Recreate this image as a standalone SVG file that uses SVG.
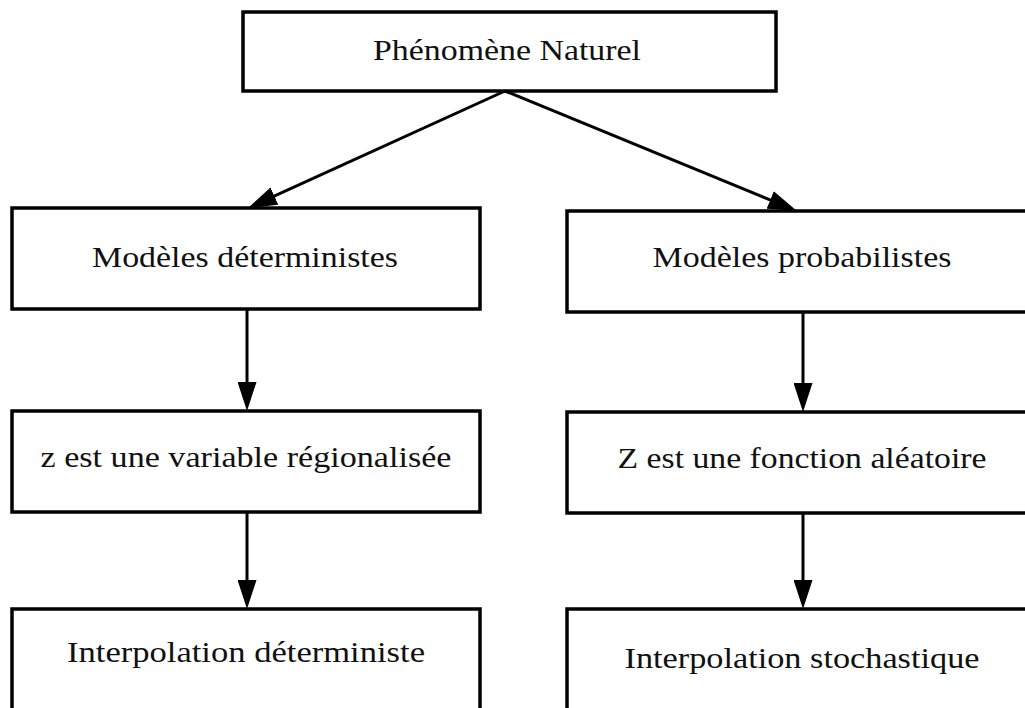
<svg xmlns="http://www.w3.org/2000/svg" width="1025" height="708" viewBox="0 0 1025 708">
<style>
.box{fill:#fff;stroke:#000;stroke-width:3.5}
.lbl{font-family:"Liberation Serif","DejaVu Serif",serif;font-size:30px;fill:#111;text-anchor:middle}
.edge{stroke:#000;stroke-width:3;fill:none}
</style>
<defs>
<marker id="ah" viewBox="0 0 29 19" refX="19" refY="9.5" markerWidth="29" markerHeight="19" markerUnits="userSpaceOnUse" orient="auto">
<path d="M0,0 L29,9.5 L0,19 Z" fill="#000"/>
</marker>
</defs>
<rect width="1025" height="708" fill="#fff"/>
<g id="n-phenomene">
<rect class="box" x="243" y="12" width="533" height="79"/>
<text class="lbl" x="507" y="60" textLength="268" lengthAdjust="spacingAndGlyphs">Phénomène Naturel</text>
</g>
<g id="n-det">
<rect class="box" x="12" y="208" width="468" height="101"/>
<text class="lbl" x="245" y="267" textLength="306" lengthAdjust="spacingAndGlyphs">Modèles déterministes</text>
</g>
<g id="n-prob">
<rect class="box" x="567" y="211" width="470" height="101"/>
<text class="lbl" x="802" y="267" textLength="299" lengthAdjust="spacingAndGlyphs">Modèles probabilistes</text>
</g>
<g id="n-varreg">
<rect class="box" x="12" y="411" width="468" height="101"/>
<text class="lbl" x="246" y="467" textLength="411" lengthAdjust="spacingAndGlyphs">z est une variable régionalisée</text>
</g>
<g id="n-fonct">
<rect class="box" x="567" y="412" width="470" height="101"/>
<text class="lbl" x="802" y="468" textLength="369" lengthAdjust="spacingAndGlyphs">Z est une fonction aléatoire</text>
</g>
<g id="n-interpdet">
<rect class="box" x="12" y="609" width="468" height="110"/>
<text class="lbl" x="246" y="662" textLength="358" lengthAdjust="spacingAndGlyphs">Interpolation déterministe</text>
</g>
<g id="n-interpsto">
<rect class="box" x="567" y="609" width="470" height="110"/>
<text class="lbl" x="802" y="668" textLength="355" lengthAdjust="spacingAndGlyphs">Interpolation stochastique</text>
</g>
<g id="connectors">
<path class="edge" d="M505,91 L257.1,203.9" marker-end="url(#ah)"/>
<path class="edge" d="M505,91 L787.75,207.2" marker-end="url(#ah)"/>
<path class="edge" d="M247,309 L247,401" marker-end="url(#ah)"/>
<path class="edge" d="M247,512 L247,599" marker-end="url(#ah)"/>
<path class="edge" d="M803,312 L803,402" marker-end="url(#ah)"/>
<path class="edge" d="M803,513 L803,599" marker-end="url(#ah)"/>
</g>
</svg>
